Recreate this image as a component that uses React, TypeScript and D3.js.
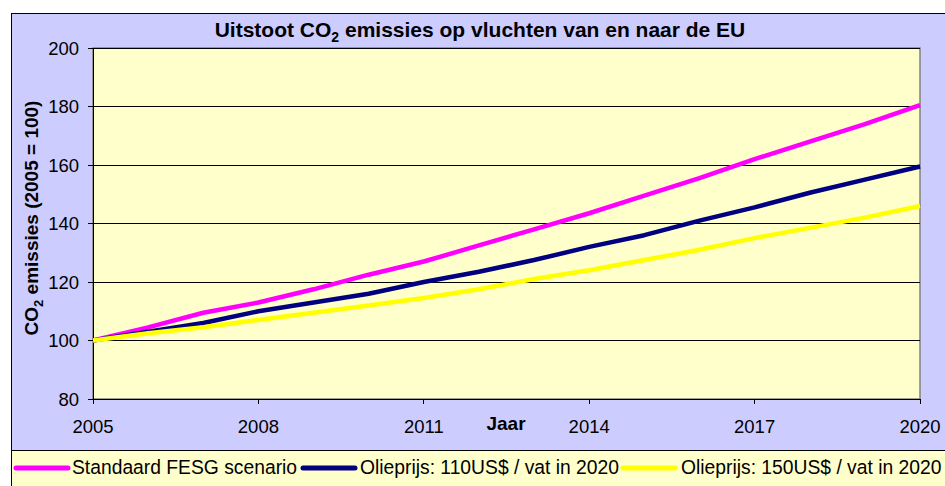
import React from "react";
import * as d3 from "d3";

const years = [2005, 2006, 2007, 2008, 2009, 2010, 2011, 2012, 2013, 2014, 2015, 2016, 2017, 2018, 2019, 2020];
const standaard = [100, 104.5, 109.5, 113, 117.5, 122.5, 127, 132.5, 138, 143.5, 149.5, 155.5, 162, 168, 174, 180.5];
const olie110 = [100, 103, 106, 110, 113, 116, 120, 123.5, 127.5, 132, 136, 141, 145.5, 150.5, 155, 159.5];
const olie150 = [100, 102.5, 104.5, 107, 109.5, 112, 114.5, 117.5, 121, 124, 127.5, 131, 135, 138.5, 142, 146];
const xTicks = [2005, 2008, 2011, 2014, 2017, 2020];
const yTicks = [80, 100, 120, 140, 160, 180, 200];
const seriesNames = ["Standaard FESG scenario", "Olieprijs: 110US$ / vat in 2020", "Olieprijs: 150US$ / vat in 2020"];
const seriesColors = ["#FF00FF", "#000080", "#FFFF00"];

const W = 945;
const H = 486;
const font = "'Liberation Sans', Arial, sans-serif";

export default function App() {
  const x = d3.scaleLinear().domain([2005, 2020]).range([93, 920]);
  const y = d3.scaleLinear().domain([80, 200]).range([399, 48]);
  const line = d3
    .line<number>()
    .x((_, i) => x(years[i]))
    .y((d) => y(d));
  const series = [standaard, olie110, olie150];
  const legendItems = [
    { lx: 16, tx: 72 },
    { lx: 303, tx: 360 },
    { lx: 623, tx: 681 },
  ];
  return (
    <svg
      width={W}
      height={H}
      style={{ position: "absolute", left: 0, top: 0, display: "block" }}
      fontFamily={font}
    >
      <rect x={0} y={0} width={W} height={H} fill="#FFFFFF" />
      <rect x={11.5} y={13.5} width={W} height={437} fill="#CCCCFF" stroke="#000" strokeWidth={1} />
      <rect x={11.5} y={450.5} width={W} height={60} fill="#FFFFCC" stroke="#000" strokeWidth={1} />

      {/* plot area */}
      <rect x={x(2005)} y={y(200)} width={x(2020) - x(2005)} height={y(80) - y(200)} fill="#FFFFCC" stroke="#808080" strokeWidth={1.5} />
      {yTicks.map((t) => (
        <line key={"g" + t} x1={x(2005)} x2={x(2020)} y1={y(t)} y2={y(t)} stroke="#000" strokeWidth={1} shapeRendering="crispEdges" />
      ))}
      {/* axes */}
      <line x1={x(2005)} x2={x(2005)} y1={y(200)} y2={y(80)} stroke="#000" strokeWidth={1} shapeRendering="crispEdges" />
      <line x1={x(2005)} x2={x(2020)} y1={y(80)} y2={y(80)} stroke="#000" strokeWidth={1} shapeRendering="crispEdges" />
      {yTicks.map((t) => (
        <g key={"y" + t}>
          <line x1={x(2005) - 5} x2={x(2005)} y1={y(t)} y2={y(t)} stroke="#000" shapeRendering="crispEdges" />
          <text x={79} y={y(t)} dy="0.36em" textAnchor="end" fontSize={18.5} fill="#000">
            {t}
          </text>
        </g>
      ))}
      {xTicks.map((t) => (
        <g key={"x" + t}>
          <line x1={x(t)} x2={x(t)} y1={y(80)} y2={y(80) + 5} stroke="#000" shapeRendering="crispEdges" />
          <text x={x(t)} y={433} textAnchor="middle" fontSize={18.5} fill="#000">
            {t}
          </text>
        </g>
      ))}

      {/* lines */}
      {series.map((s, i) => (
        <path key={"s" + i} d={line(s) || ""} fill="none" stroke={seriesColors[i]} strokeWidth={4.5} strokeLinejoin="round" />
      ))}

      {/* titles */}
      <text x={480} y={37} textAnchor="middle" fontSize={21} fontWeight="bold" fill="#000">
        Uitstoot CO<tspan fontSize={14} dy={5}>2</tspan>
        <tspan dy={-5}> emissies op vluchten van en naar de EU</tspan>
      </text>
      <text x={506} y={430} textAnchor="middle" fontSize={19} fontWeight="bold" fill="#000">
        Jaar
      </text>
      <text transform="translate(37.5,218) rotate(-90)" textAnchor="middle" fontSize={19} fontWeight="bold" fill="#000">
        CO<tspan fontSize={13} dy={5}>2</tspan>
        <tspan dy={-5}> emissies (2005 = 100)</tspan>
      </text>

      {/* legend */}
      {legendItems.map((it, i) => (
        <g key={"l" + i}>
          <line x1={it.lx} x2={it.lx + 52} y1={468} y2={468} stroke={seriesColors[i]} strokeWidth={5} strokeLinecap="round" />
          <text x={it.tx} y={474} fontSize={19.3} fill="#000">
            {seriesNames[i]}
          </text>
        </g>
      ))}
    </svg>
  );
}
